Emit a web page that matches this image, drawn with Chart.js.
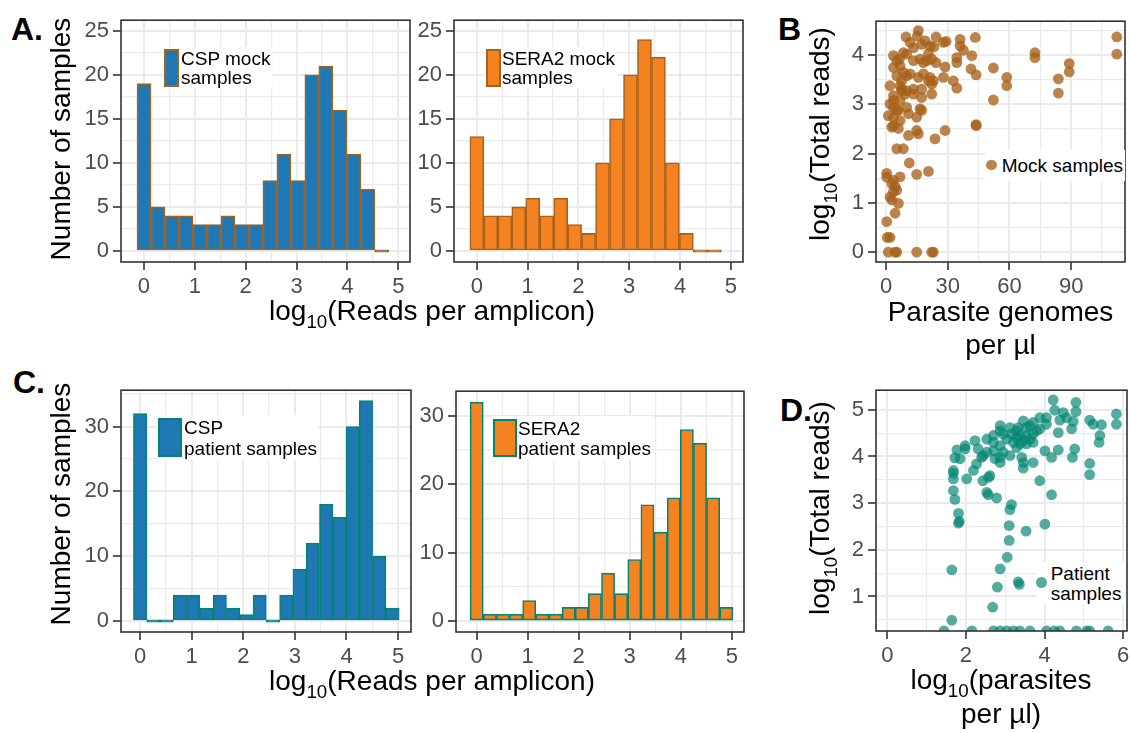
<!DOCTYPE html>
<html>
<head>
<meta charset="utf-8">
<script src="https://cdn.jsdelivr.net/npm/chart.js@4.4.1/dist/chart.umd.min.js"></script>
<style>
  html, body { margin: 0; padding: 0; background: #fff; }
  body { width: 1130px; height: 733px; position: relative; overflow: hidden;
         font-family: "Liberation Sans", Arial, Helvetica, sans-serif; }
  canvas { position: absolute; }
  .t { position: absolute; white-space: nowrap; line-height: 1; color: #000; z-index: 5; }
  .t sub { font-size: 0.67em; vertical-align: -0.4em; line-height: 0; }
  .box { position: absolute; background: #fff; z-index: 4; }
  .sw { position: absolute; box-sizing: border-box; z-index: 5; }
</style>
</head>
<body>
<script>
// ── Data ─────────────────────────────────────────────────────────────────────
// Histogram bin centres, log10(reads per amplicon)
const mockBinCenters    = [0, 0.275, 0.55, 0.825, 1.1, 1.375, 1.65, 1.925, 2.2, 2.475, 2.75, 3.025, 3.3, 3.575, 3.85, 4.125, 4.4, 4.675];
const patientBinCenters = [0, 0.2575, 0.515, 0.7725, 1.03, 1.2875, 1.545, 1.8025, 2.06, 2.3175, 2.575, 2.8325, 3.09, 3.3475, 3.605, 3.8625, 4.12, 4.3775, 4.635, 4.8925];

// Number of samples per bin
const cspMockCounts      = [19, 5, 4, 4, 3, 3, 4, 3, 3, 8, 11, 8, 20, 21, 16, 11, 7, 0];
const sera2MockCounts    = [13, 4, 4, 5, 6, 4, 6, 3, 2, 10, 15, 20, 24, 22, 10, 2, 0, 0];
const cspPatientCounts   = [32, 0, 0, 4, 4, 2, 4, 2, 1, 4, 0, 4, 8, 12, 18, 16, 30, 34, 10, 2];
const sera2PatientCounts = [32, 1, 1, 1, 3, 1, 1, 2, 2, 4, 7, 4, 9, 17, 13, 18, 28, 26, 18, 2];

// Panel B: parasite genomes per µl vs log10(total reads), mock samples
const mockGenomes = [15.7, 9.7, 24.3, 29.2, 36.0, 43.4, 11.7, 19.0, 15.2, 21.4, 36.0, 37.6, 112.2, 112.2, 72.4, 72.4,
  89.1, 89.1, 83.8, 83.8, 58.7, 58.7, 52.2, 52.2, 43.8, 43.8, 41.7, 41.3, 43.8, 34.4, 34.4, 32.7, 34.4, 28.7, 27.9,
  3.6, 6.5, 10.0, 13.3, 16.5, 18.2, 22.2, 24.3, 6.8, 3.6, 8.4, 11.7, 5.2, 10.0, 15.7, 21.4, 20.6, 23.0, 1.9, 6.8,
  7.6, 10.0, 13.3, 17.3, 22.2, 3.6, 3.6, 6.8, 17.3, 22.2, 3.6, 5.2, 1.1, 3.6, 6.8, 10.0, 16.5, 17.3, 14.9, 10.9,
  3.6, 6.0, 10.9, 14.9, 15.7, 23.8, 28.7, 5.2, 8.4, 11.3, 14.9, 20.6, 0.3, 0.3, 2.8, 4.4, 6.8, 3.6, 1.9, 6.0, 4.4,
  0.3, 0.6, 1.9, 1.1, 4.4, 5.2, 14.9, 22.2, 23.0, 8.4, 13.3, 20.6, 23.3, 5.2, 7.6, 13.3, 18.2, 19.8, 1.9, 6.0, 2.8,
  17.3, 27.9, 5.2, 3.6, 2.8, 7.6, 9.2];
const mockLogReads = [4.50, 4.37, 4.37, 4.28, 4.32, 4.36, 4.26, 4.29, 4.39, 4.19, 4.19, 4.10, 4.37, 4.02, 4.05, 3.95,
  3.83, 3.66, 3.52, 3.23, 3.55, 3.38, 3.74, 3.09, 2.57, 2.59, 3.99, 3.72, 3.60, 3.95, 3.85, 3.48, 3.33, 3.76, 3.55,
  3.99, 3.92, 4.02, 3.89, 3.92, 3.85, 3.92, 3.85, 3.78, 3.75, 3.65, 3.62, 3.58, 3.58, 3.55, 3.55, 3.48, 3.48, 3.38, 3.38,
  3.28, 3.28, 3.21, 3.31, 3.41, 3.18, 3.08, 3.08, 3.14, 3.21, 2.94, 2.88, 2.77, 2.74, 2.67, 2.94, 2.91, 2.88, 2.74, 2.81,
  2.57, 2.51, 2.37, 2.47, 2.40, 2.30, 2.47, 2.10, 2.10, 1.81, 1.58, 1.64, 1.60, 1.52, 1.39, 1.33, 1.53, 1.23, 1.12, 0.99, 0.79,
  0.62, 0.30, 0.30, 0, 0, 0, 0, 0, 0, 4.05, 4.15, 4.03, 4.17, 3.89, 3.48, 3.31, 3.62, 3.89, 3.01, 2.88, 2.54,
  4.22, 4.26, 1.26, 1.46, 1.06, 3.31, 3.21];

// Panel D: log10(parasites per µl) vs log10(total reads), patient samples
// (reads below the axis floor sit on it at 0.26)
const patientLogParasites = [4.22, 4.80, 4.80, 4.26, 4.48, 5.83, 5.83, 5.15, 5.45, 5.24, 5.41, 5.39, 5.15, 5.15, 4.73, 4.69,
  4.77, 4.71, 4.35, 4.35, 4.18, 4.18, 4.01, 3.88, 4.01, 3.71, 3.88, 3.71, 3.46, 4.05, 3.54, 3.29, 3.38, 3.54, 3.71, 3.88,
  3.16, 3.04, 3.21, 3.38, 3.54, 3.71, 3.29, 3.46, 2.87, 2.87, 2.70, 2.53, 2.70, 2.87, 2.70, 2.95, 3.12, 3.42, 3.46, 3.46,
  2.87, 2.87, 2.74, 2.53, 2.23, 2.31, 2.40, 2.44, 2.27, 2.19, 1.98, 1.98, 1.77, 1.72, 1.85, 1.68, 1.68, 1.68, 2.02, 2.43,
  2.61, 2.57, 1.68, 1.72, 1.81, 1.83, 1.81, 2.53, 2.57, 2.78, 3.16, 3.12, 3.10, 3.10, 3.53, 3.05, 2.87, 3.33, 3.36, 2.80,
  2.68, 1.64, 1.64, 3.29, 3.63, 3.80, 3.12, 4.05, 4.39, 4.56, 3.63, 2.95, 3.33,
  1.44, 2.15, 2.70, 2.87, 3.04, 3.21, 3.37, 3.63, 4.05, 4.25, 4.39, 4.81, 5.07, 5.15, 5.62];
const patientLogReads = [5.21, 5.16, 4.96, 4.99, 4.94, 4.91, 4.69, 4.78, 4.68, 4.69, 4.45, 4.30, 3.85, 3.61, 4.75, 4.59,
  4.16, 3.98, 4.51, 4.14, 3.98, 3.18, 4.12, 3.48, 2.55, 3.87, 4.83, 4.73, 4.76, 4.69, 4.62, 4.55, 4.45, 4.45, 4.48, 4.59,
  4.48, 4.37, 4.30, 4.27, 4.27, 4.30, 4.19, 4.34, 4.66, 4.55, 4.45, 4.37, 4.30, 4.23, 4.12, 4.09, 4.02, 3.98, 3.87, 3.75,
  3.98, 3.87, 3.95, 4.09, 4.34, 4.16, 3.98, 4.02, 3.84, 3.70, 4.23, 4.16, 4.14, 3.97, 3.95, 3.70, 3.64, 3.52, 3.52, 3.48,
  3.59, 3.55, 3.27, 3.08, 2.78, 2.61, 2.57, 3.23, 3.18, 3.11, 2.97, 2.86, 2.52, 2.20, 2.40, 1.84, 1.59, 1.31, 1.26, 1.20,
  0.77, 1.57, 0.49, 4.41, 4.37, 4.55, 4.62, 4.83, 4.78, 4.83, 4.66, 4.48, 4.62,
  0.26, 0.26, 0.26, 0.26, 0.26, 0.26, 0.26, 0.26, 0.26, 0.26, 0.26, 0.26, 0.26, 0.26, 0.26];

// Axis tick labels
const readsTicks         = [0, 1, 2, 3, 4, 5];
const mockCountTicks     = [0, 5, 10, 15, 20, 25];
const patientCountTicks  = [0, 10, 20, 30];
const genomeTicks        = [0, 30, 60, 90];
const mockLogReadTicks   = [0, 1, 2, 3, 4];
const parasiteTicks      = [0, 2, 4, 6];
const patientLogReadTicks = [1, 2, 3, 4, 5];

// ── Style ────────────────────────────────────────────────────────────────────
const BLUE   = "#1f78b4";
const ORANGE = "#f58220";
const BROWN  = "#a6611a";
const TEAL   = "#018571";
const BROWN_PT = "rgba(166, 97, 26, 0.78)";
const TEAL_PT  = "rgba(1, 133, 113, 0.68)";

const AX_Y = 60, AX_X = 44, PAD = 16;

Chart.defaults.font.family = '"Liberation Sans", Arial, Helvetica, sans-serif';
Chart.defaults.animation = false;
Chart.defaults.events = [];
Chart.defaults.plugins.legend.display = false;
Chart.defaults.plugins.tooltip.enabled = false;

// panel border drawn on top, like ggplot's panel.border
const framePlugin = {
  id: "frame",
  afterDraw(chart) {
    const { ctx, chartArea: a } = chart;
    ctx.save();
    ctx.strokeStyle = "#333333";
    ctx.lineWidth = 1.6;
    ctx.strokeRect(a.left, a.top, a.right - a.left, a.bottom - a.top);
    ctx.restore();
  }
};

// major ticks from the label list, minor grid halfway between
function axis(min, max, majors, horizontal) {
  const step = majors[1] - majors[0];
  const vals = [];
  for (let v = majors[0] - step / 2; v <= max + 1e-9; v += step / 2) {
    if (v >= min) vals.push(+v.toFixed(6));
  }
  const isMajor = v => majors.some(m => Math.abs(m - v) < 1e-6);
  return {
    type: "linear", min, max, offset: false,
    afterBuildTicks: s => { s.ticks = vals.map(v => ({ value: v })); },
    afterFit: s => { if (horizontal) s.height = AX_X; else s.width = AX_Y; },
    border: { display: false },
    grid: {
      offset: false,
      color: "#EBEBEB",
      lineWidth: c => (c.tick && isMajor(c.tick.value)) ? 2 : 1.2,
      drawTicks: true,
      tickLength: 8,
      tickWidth: 1.6,
      tickColor: c => (c.tick && isMajor(c.tick.value)) ? "#333333" : "rgba(0,0,0,0)"
    },
    ticks: {
      autoSkip: false, maxRotation: 0, minRotation: 0,
      color: "#4D4D4D", font: { size: 22 }, padding: 4,
      callback: v => isMajor(v) ? String(v) : ""
    }
  };
}

function makeCanvas(r) {
  const c = document.createElement("canvas");
  const w = r.r - r.l + AX_Y + PAD, h = r.b - r.t + AX_X + PAD;
  c.width = w; c.height = h;
  c.style.left = (r.l - AX_Y) + "px";
  c.style.top = (r.t - PAD) + "px";
  c.style.width = w + "px";
  c.style.height = h + "px";
  document.body.appendChild(c);
  return c;
}

function histogram(rect, centers, counts, fill, edge, xr, yr) {
  new Chart(makeCanvas(rect), {
    type: "bar",
    data: {
      datasets: [{
        data: centers.map((x, i) => ({ x, y: counts[i] })),
        backgroundColor: fill,
        borderColor: edge,
        borderWidth: 1.6,
        borderSkipped: false,
        barPercentage: 1,
        categoryPercentage: 1,
        minBarLength: 2.5
      }]
    },
    options: {
      responsive: false,
      layout: { padding: { top: PAD, right: PAD, left: 0, bottom: 0 } },
      scales: {
        x: axis(xr[0], xr[1], xr[2], true),
        y: axis(yr[0], yr[1], yr[2], false)
      }
    },
    plugins: [framePlugin]
  });
}

function scatter(rect, xs, ys, colour, xr, yr) {
  new Chart(makeCanvas(rect), {
    type: "scatter",
    data: {
      datasets: [{
        data: xs.map((x, i) => ({ x, y: ys[i] })),
        backgroundColor: colour,
        borderWidth: 0,
        pointRadius: 5.4
      }]
    },
    options: {
      responsive: false,
      layout: { padding: { top: PAD, right: PAD, left: 0, bottom: 0 } },
      scales: {
        x: axis(xr[0], xr[1], xr[2], true),
        y: axis(yr[0], yr[1], yr[2], false)
      }
    },
    plugins: [framePlugin]
  });
}

// ── Panels ───────────────────────────────────────────────────────────────────
histogram({ l: 121, t: 19, r: 410, b: 262 }, mockBinCenters, cspMockCounts, BLUE, BROWN,
  [-0.452, 5.23, readsTicks], [-1.25, 26.2, mockCountTicks]);
histogram({ l: 454, t: 19, r: 743, b: 262 }, mockBinCenters, sera2MockCounts, ORANGE, BROWN,
  [-0.45, 5.24, readsTicks], [-1.25, 26.2, mockCountTicks]);
histogram({ l: 121, t: 389, r: 411, b: 632 }, patientBinCenters, cspPatientCounts, BLUE, TEAL,
  [-0.37, 5.25, readsTicks], [-1.7, 35.6, patientCountTicks]);
histogram({ l: 456, t: 390, r: 744, b: 632 }, patientBinCenters, sera2PatientCounts, ORANGE, TEAL,
  [-0.406, 5.24, readsTicks], [-1.6, 33.6, patientCountTicks]);
scatter({ l: 876, t: 20, r: 1125, b: 262 }, mockGenomes, mockLogReads, BROWN_PT,
  [-4.9, 116.2, genomeTicks], [-0.2, 4.69, mockLogReadTicks]);
scatter({ l: 876, t: 389, r: 1127, b: 631 }, patientLogParasites, patientLogReads, TEAL_PT,
  [-0.29, 6.1, parasiteTicks], [0.26, 5.42, patientLogReadTicks]);

// ── Text ─────────────────────────────────────────────────────────────────────
function addText(html, x, baseline, size, align, weight) {
  const d = document.createElement("div");
  d.className = "t";
  d.innerHTML = html;
  d.style.fontSize = size + "px";
  d.style.left = x + "px";
  d.style.top = (baseline - 0.8465 * size) + "px";
  if (weight) d.style.fontWeight = weight;
  if (align === "center") d.style.transform = "translateX(-50%)";
  document.body.appendChild(d);
}

function addVText(html, cx, cy, size) {
  const d = document.createElement("div");
  d.className = "t";
  d.innerHTML = html;
  d.style.fontSize = size + "px";
  d.style.left = cx + "px";
  d.style.top = cy + "px";
  d.style.transform = "translate(-50%, -50%) rotate(-90deg)";
  document.body.appendChild(d);
}

function addBox(l, t, w, h) {
  const d = document.createElement("div");
  d.className = "box";
  Object.assign(d.style, { left: l + "px", top: t + "px", width: w + "px", height: h + "px" });
  document.body.appendChild(d);
}

function addSwatch(l, t, w, h, fill, edge, round) {
  const d = document.createElement("div");
  d.className = "sw";
  Object.assign(d.style, { left: l + "px", top: t + "px", width: w + "px", height: h + "px", background: fill });
  if (edge) d.style.border = "2px solid " + edge;
  if (round) d.style.borderRadius = "50%";
  document.body.appendChild(d);
}

// panel letters
addText("A.", 11, 40, 32, "left", "bold");
addText("B", 778, 40, 32, "left", "bold");
addText("C.", 13, 393, 32, "left", "bold");
addText("D.", 780, 421, 32, "left", "bold");

// axis titles
addText("log<sub>10</sub>(Reads per amplicon)", 432, 321, 28, "center");
addText("log<sub>10</sub>(Reads per amplicon)", 432, 691, 28, "center");
addText("Parasite genomes", 1000.5, 322, 28, "center");
addText("per µl", 1000.5, 355, 28, "center");
addText("log<sub>10</sub>(parasites", 1001, 690, 28, "center");
addText("per µl)", 1001, 724, 28, "center");
addVText("Number of samples", 61, 139, 28);
addVText("Number of samples", 61, 504, 28);
addVText("log<sub>10</sub>(Total reads)", 820, 134, 28);
addVText("log<sub>10</sub>(Total reads)", 820, 508, 28);

// legends
addBox(163, 47, 109, 41);
addSwatch(164, 49, 15, 38, BLUE, BROWN);
addText("CSP mock", 181, 64.8, 19);
addText("samples", 181, 84.5, 19);

addBox(484, 47, 133, 41);
addSwatch(486, 49, 15, 38, ORANGE, BROWN);
addText("SERA2 mock", 502, 64.8, 19);
addText("samples", 502, 84.5, 19);

addBox(156, 415, 162, 45);
addSwatch(158, 418, 24, 39, BLUE, TEAL);
addText("CSP", 184, 434, 19);
addText("patient samples", 184, 455, 19);

addBox(491, 416, 161, 44);
addSwatch(493, 419, 24, 38, ORANGE, TEAL);
addText("SERA2", 518, 435, 19);
addText("patient samples", 518, 455, 19);

addBox(985, 150, 140, 31);
addSwatch(986.4, 159.7, 10.8, 10.8, BROWN_PT, null, true);
addText("Mock samples", 1001.7, 171.8, 19);

addBox(1036, 562, 89, 42);
addSwatch(1036.4, 577.4, 10.8, 10.8, TEAL_PT, null, true);
addText("Patient", 1050.7, 580, 19);
addText("samples", 1050.7, 600, 19);
</script>
</body>
</html>
